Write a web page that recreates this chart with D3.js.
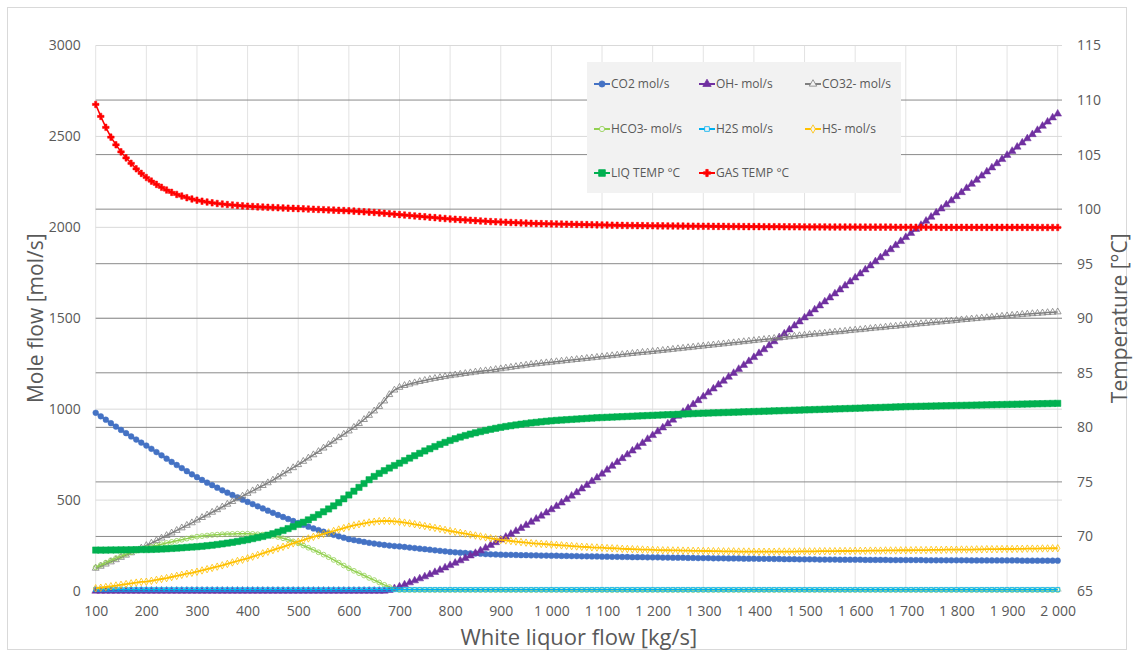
<!DOCTYPE html>
<html><head><meta charset="utf-8">
<script src="https://cdn.jsdelivr.net/npm/d3@7"></script>
<style>
body{margin:0;background:#fff;}
text{font-family:"Open Sans",sans-serif;fill:#595959;}
</style></head>
<body><svg id="c" width="1134" height="657"></svg>
<script>
// ---------- data ----------
const flow = d3.range(100, 2001, 10); // White liquor flow categories, kg/s
const xTicks = [100,200,300,400,500,600,700,800,900,1000,1100,1200,1300,1400,1500,1600,1700,1800,1900,2000];
const leftTicks = [0,500,1000,1500,2000,2500,3000];
const rightTicks = [65,70,75,80,85,90,95,100,105,110,115];

const co2 = [980,961,942,923,904,886,868,850,833,816,
800,782,764,746,728,710,693,676,659,642,
626,611,596,582,568,554,541,528,515,502,
490,478,466,454,442,430,418,407,396,385,
374,364,354,344,335,326,317,309,301,293,
285,280,275,270,265,261,257,253,250,247,
245,242,239,236,233,230,227,224,221,218,
215,213,211,209,207,206,205,203,202,201,
200,199,199,198,197,197,196,196,195,195,
194,194,193,193,192,192,191,191,190,190,
189,189,188,188,187,187,186,186,186,185,
185,185,184,184,183,183,183,182,182,181,
181,181,180,180,180,179,179,179,178,178,
178,177,177,177,176,176,175,175,175,174,
174,174,174,173,173,173,173,172,172,172,
172,172,171,171,171,171,171,170,170,170,
170,170,170,170,169,169,169,169,169,169,
169,169,169,168,168,168,168,168,168,168,
168,168,168,167,167,167,167,167,167,167,
167];

const oh = [0,0,0,0,0,0,0,0,0,0,
0,0,0,0,0,0,0,0,0,0,
0,0,0,0,0,0,0,0,0,0,
0,0,0,0,0,0,0,0,0,0,
0,0,0,0,0,0,0,0,0,0,
0,0,0,0,0,0,0,0,4,14,
24,35,46,57,68,79,91,103,115,128,
141,154,167,180,194,208,222,237,252,267,
282,297,313,329,345,362,379,396,413,430,
448,466,485,504,523,542,562,582,603,623,
644,666,687,708,729,750,771,792,813,835,
856,877,898,920,941,962,984,1005,1026,1048,
1069,1091,1112,1134,1155,1177,1198,1220,1242,1263,
1285,1307,1328,1350,1372,1394,1415,1437,1459,1481,
1503,1525,1547,1569,1591,1613,1635,1657,1679,1701,
1723,1745,1767,1789,1812,1834,1856,1878,1901,1923,
1945,1968,1990,2012,2035,2057,2080,2102,2125,2147,
2170,2192,2215,2238,2260,2283,2306,2328,2351,2374,
2397,2419,2442,2465,2488,2511,2534,2557,2580,2603,
2624];

const co32 = [125,136,148,160,172,185,197,210,223,236,
250,263,277,291,305,319,333,347,361,375,
390,404,418,433,447,462,477,492,507,522,
537,551,566,580,595,610,627,644,661,678,
695,713,731,749,767,786,805,824,843,862,
880,900,921,943,966,990,1015,1045,1080,1105,
1120,1130,1138,1145,1152,1158,1164,1169,1174,1179,
1184,1188,1192,1196,1200,1204,1208,1211,1214,1218,
1222,1226,1230,1234,1238,1242,1246,1249,1252,1255,
1258,1261,1264,1267,1270,1273,1276,1279,1282,1285,
1288,1291,1294,1297,1300,1303,1306,1309,1312,1314,
1317,1320,1323,1326,1329,1332,1335,1338,1341,1344,
1347,1350,1353,1356,1359,1362,1365,1368,1371,1374,
1377,1380,1383,1386,1389,1392,1395,1398,1401,1404,
1407,1410,1413,1415,1418,1421,1424,1426,1429,1432,
1435,1437,1440,1443,1446,1448,1451,1454,1456,1459,
1462,1464,1467,1470,1472,1475,1478,1480,1483,1485,
1488,1491,1493,1496,1498,1501,1503,1506,1508,1511,
1513,1516,1518,1521,1523,1525,1527,1529,1531,1533,
1535];

const hco3 = [130,143,156,169,181,192,203,213,222,229,
236,243,250,257,264,270,276,282,288,294,
299,302,305,308,310,312,313,314,315,315,
315,314,312,310,307,303,297,290,282,273,
262,250,238,226,213,200,186,171,156,140,
125,111,98,85,72,60,47,34,22,10,
5,5,5,5,5,5,5,5,5,5,
5,5,5,5,5,5,5,5,5,5,
5,5,5,5,5,5,5,5,5,5,
5,5,5,5,5,5,5,5,5,5,
5,5,5,5,5,5,5,5,5,5,
5,5,5,5,5,5,5,5,5,5,
5,5,5,5,5,5,5,5,5,5,
5,5,5,5,5,5,5,5,5,5,
5,5,5,5,5,5,5,5,5,5,
5,5,5,5,5,5,5,5,5,5,
5,5,5,5,5,5,5,5,5,5,
5,5,5,5,5,5,5,5,5,5,
5,5,5,5,5,5,5,5,5,5,
5];

const h2s = [8,8,8,8,8,8,8,8,8,8,
8,8,8,8,8,8,8,8,8,8,
8,8,8,8,8,8,8,8,8,8,
8,8,8,8,8,8,8,8,8,8,
8,8,8,8,8,8,8,8,8,8,
8,8,8,8,8,8,8,8,8,8,
8,8,8,8,8,8,8,8,8,8,
8,8,8,8,8,8,8,8,8,8,
8,8,8,8,8,8,8,8,8,8,
8,8,8,8,8,8,8,8,8,8,
8,8,8,8,8,8,8,8,8,8,
8,8,8,8,8,8,8,8,8,8,
8,8,8,8,8,8,8,8,8,8,
8,8,8,8,8,8,8,8,8,8,
8,8,8,8,8,8,8,8,8,8,
8,8,8,8,8,8,8,8,8,8,
8,8,8,8,8,8,8,8,8,8,
8,8,8,8,8,8,8,8,8,8,
8,8,8,8,8,8,8,8,8,8,
8];

const hs = [15,18,22,26,30,34,38,42,46,50,
51,56,61,66,71,77,83,89,95,100,
106,113,120,127,134,141,149,157,165,172,
180,189,198,207,216,225,234,243,252,262,
271,280,289,298,306,314,322,330,338,346,
354,361,367,372,377,381,384,386,385,383,
380,376,372,367,362,357,352,347,342,336,
330,325,320,315,310,305,300,295,290,285,
281,278,275,272,269,266,263,261,259,257,
255,253,251,249,247,245,243,242,240,239,
238,236,235,234,232,231,230,229,228,227,
226,225,224,224,223,223,222,222,221,221,
220,220,219,219,218,218,218,217,217,217,
216,216,216,216,216,217,217,217,217,218,
218,218,218,219,219,219,219,220,220,220,
221,221,221,222,222,222,223,223,223,224,
224,224,225,225,225,226,226,226,227,227,
227,228,228,228,229,229,230,230,230,231,
231,231,232,232,233,233,233,234,234,235,
235];

const liqTemp = [68.75,68.75,68.75,68.76,68.76,68.77,68.77,68.78,68.79,68.8,
68.8,68.81,68.83,68.85,68.87,68.9,68.93,68.96,69.0,69.03,
69.06,69.1,69.15,69.2,69.26,69.32,69.39,69.46,69.54,69.62,
69.7,69.8,69.9,70.0,70.12,70.25,70.4,70.55,70.72,70.9,
71.1,71.3,71.52,71.75,72.0,72.26,72.52,72.8,73.1,73.45,
73.8,74.15,74.5,74.85,75.2,75.5,75.78,76.03,76.27,76.5,
76.72,76.95,77.18,77.4,77.62,77.84,78.04,78.24,78.44,78.62,
78.8,78.96,79.11,79.25,79.38,79.5,79.61,79.72,79.82,79.91,
80.0,80.08,80.15,80.22,80.29,80.35,80.41,80.46,80.51,80.56,
80.6,80.64,80.67,80.7,80.73,80.76,80.79,80.82,80.85,80.88,
80.9,80.92,80.94,80.96,80.98,81.0,81.02,81.04,81.06,81.08,
81.1,81.12,81.14,81.16,81.18,81.2,81.22,81.24,81.26,81.28,
81.3,81.31,81.33,81.34,81.36,81.37,81.39,81.4,81.42,81.43,
81.45,81.46,81.48,81.49,81.51,81.52,81.54,81.55,81.57,81.58,
81.6,81.61,81.63,81.64,81.66,81.67,81.69,81.7,81.72,81.73,
81.75,81.76,81.78,81.79,81.81,81.82,81.84,81.85,81.87,81.88,
81.9,81.91,81.92,81.93,81.94,81.95,81.96,81.97,81.98,81.99,
82.0,82.01,82.02,82.03,82.04,82.05,82.06,82.07,82.08,82.09,
82.1,82.11,82.12,82.13,82.14,82.15,82.16,82.17,82.18,82.19,
82.2];

const gasTemp = [109.6,108.5,107.5,106.6,105.9,105.25,104.7,104.2,103.7,103.28,
102.9,102.57,102.27,102.0,101.75,101.54,101.35,101.2,101.05,100.93,
100.82,100.73,100.65,100.58,100.52,100.47,100.42,100.38,100.34,100.3,
100.27,100.24,100.21,100.19,100.17,100.15,100.13,100.11,100.09,100.07,
100.05,100.03,100.01,99.99,99.97,99.95,99.93,99.91,99.89,99.87,
99.85,99.82,99.79,99.76,99.73,99.7,99.66,99.62,99.58,99.54,
99.5,99.46,99.42,99.38,99.34,99.3,99.26,99.22,99.18,99.14,
99.1,99.07,99.04,99.01,98.98,98.95,98.92,98.89,98.86,98.84,
98.82,98.8,98.78,98.76,98.74,98.72,98.7,98.68,98.67,98.66,
98.65,98.64,98.63,98.62,98.61,98.6,98.59,98.58,98.57,98.56,
98.55,98.54,98.53,98.52,98.51,98.5,98.5,98.49,98.49,98.48,
98.48,98.47,98.47,98.46,98.46,98.45,98.45,98.44,98.44,98.43,
98.43,98.43,98.42,98.42,98.42,98.41,98.41,98.41,98.4,98.4,
98.4,98.4,98.39,98.39,98.39,98.39,98.38,98.38,98.38,98.38,
98.37,98.37,98.37,98.37,98.37,98.36,98.36,98.36,98.36,98.36,
98.36,98.35,98.35,98.35,98.35,98.35,98.35,98.35,98.34,98.34,
98.34,98.34,98.34,98.34,98.34,98.34,98.34,98.33,98.33,98.33,
98.33,98.33,98.33,98.33,98.33,98.33,98.33,98.33,98.33,98.33,
98.33,98.33,98.33,98.33,98.33,98.33,98.32,98.32,98.32,98.32,
98.32];

const seriesNames = ["CO2 mol/s","OH- mol/s","CO32- mol/s","HCO3- mol/s","H2S mol/s","HS- mol/s","LIQ TEMP °C","GAS TEMP °C"];

// ---------- chart ----------
const svg = d3.select("#c");
const L = 95.7, R = 1057.7, RE = 1062, T = 45.5, B = 591;
const x = d3.scaleLinear().domain([100, 2000]).range([L, R]);
const yL = d3.scaleLinear().domain([0, 3000]).range([B, T]);
const yR = d3.scaleLinear().domain([65, 115]).range([B, T]);

svg.append("rect").attr("x",7.5).attr("y",7.5).attr("width",1119).attr("height",642)
  .attr("fill","#fff").attr("stroke","#d9d9d9");

// vertical gridlines
svg.append("g").selectAll("line").data(xTicks).join("line")
  .attr("x1",d=>x(d)).attr("x2",d=>x(d)).attr("y1",T).attr("y2",B)
  .attr("stroke","#e3e3e3").attr("stroke-width",1);
// primary horizontal gridlines
svg.append("g").selectAll("line").data(leftTicks).join("line")
  .attr("x1",L).attr("x2",RE).attr("y1",d=>yL(d)).attr("y2",d=>yL(d))
  .attr("stroke","#d9d9d9").attr("stroke-width",1);
// secondary gridlines
svg.append("g").selectAll("line").data(rightTicks.slice(1,-1)).join("line")
  .attr("x1",L).attr("x2",RE).attr("y1",d=>yR(d)).attr("y2",d=>yR(d))
  .attr("stroke","#8a8a8a").attr("stroke-width",1);

// axes
const fmt = d3.formatLocale({decimal:",",thousands:"\u00a0",grouping:[3],currency:["",""]}).format(",");
const ax = svg.append("g").attr("transform",`translate(0,${B})`)
  .call(d3.axisBottom(x).tickValues(xTicks).tickFormat(fmt).tickSize(0).tickPadding(15));
const al = svg.append("g").attr("transform",`translate(${L},0)`)
  .call(d3.axisLeft(yL).tickValues(leftTicks).tickFormat(d3.format("d")).tickSize(0).tickPadding(15));
const ar = svg.append("g").attr("transform",`translate(${RE},0)`)
  .call(d3.axisRight(yR).tickValues(rightTicks).tickFormat(d3.format("d")).tickSize(0).tickPadding(15));
[ax,al,ar].forEach(g=>{g.select(".domain").remove();
  g.selectAll("text").attr("font-family","Open Sans").attr("font-size",14).attr("fill","#595959");});

// axis titles
svg.append("text").attr("x",(L+RE)/2).attr("y",645).attr("text-anchor","middle")
  .attr("font-size",22).text("White liquor flow [kg/s]");
svg.append("text").attr("transform",`translate(43,${(T+B)/2}) rotate(-90)`).attr("text-anchor","middle")
  .attr("font-size",21).text("Mole flow [mol/s]");
svg.append("text").attr("transform",`translate(1127,${(T+B)/2}) rotate(-90)`).attr("text-anchor","middle")
  .attr("font-size",21).text("Temperature [°C]");

// series definitions
const S = [
 {name:seriesNames[0], vals:co2, y:yL, color:"#4472C4", sym:d3.symbolCircle, size:26, fill:true, lw:2},
 {name:seriesNames[1], vals:oh, y:yL, color:"#7030A0", sym:d3.symbolTriangle, size:26, fill:true, lw:1.5},
 {name:seriesNames[2], vals:co32, y:yL, color:"#7F7F7F", sym:d3.symbolTriangle, size:20, fill:false, lw:1.5},
 {name:seriesNames[3], vals:hco3, y:yL, color:"#92D050", sym:d3.symbolCircle, size:18, fill:false, lw:1.5},
 {name:seriesNames[4], vals:h2s, y:yL, color:"#00B0F0", sym:d3.symbolSquare, size:18, fill:false, lw:1.5},
 {name:seriesNames[5], vals:hs, y:yL, color:"#FFC000", sym:d3.symbolDiamond, size:16, fill:false, lw:1.8},
 {name:seriesNames[6], vals:liqTemp, y:yR, color:"#00B050", sym:d3.symbolSquare, size:40, fill:true, lw:2},
 {name:seriesNames[7], vals:gasTemp, y:yR, color:"#FF0000", sym:d3.symbolCross, size:24, fill:true, lw:1.5}
];

const plot = svg.append("g");
S.forEach(s=>{
  const pts = flow.map((f,i)=>[f, s.vals[i]]);
  const line = d3.line().x(d=>x(d[0])).y(d=>s.y(d[1]));
  const g = plot.append("g");
  g.append("path").attr("d",line(pts)).attr("fill","none").attr("stroke",s.color).attr("stroke-width",s.lw);
  g.selectAll("path.m").data(pts).join("path").attr("class","m")
   .attr("transform",d=>`translate(${x(d[0])},${s.y(d[1])})`)
   .attr("d",d3.symbol().type(s.sym).size(s.size))
   .attr("fill",s.fill?s.color:"none").attr("stroke",s.color).attr("stroke-width",s.fill?0.5:0.8);
});

// legend
const lg = svg.append("g");
lg.append("rect").attr("x",587).attr("y",62).attr("width",314).attr("height",131).attr("fill","#f2f2f2");
const cols=[594,699,805], rows=[84,129,173];
S.forEach((s,i)=>{
  const cx=cols[i%3], cy=rows[Math.floor(i/3)];
  lg.append("line").attr("x1",cx).attr("x2",cx+16).attr("y1",cy).attr("y2",cy).attr("stroke",s.color).attr("stroke-width",2);
  lg.append("path").attr("transform",`translate(${cx+8},${cy})`).attr("d",d3.symbol().type(s.sym).size(s.size+4))
    .attr("fill",s.fill?s.color:"#f2f2f2").attr("stroke",s.color).attr("stroke-width",0.8);
  lg.append("text").attr("x",cx+17).attr("y",cy).attr("dy","0.35em").attr("font-size",12).text(s.name);
});
</script></body></html>
